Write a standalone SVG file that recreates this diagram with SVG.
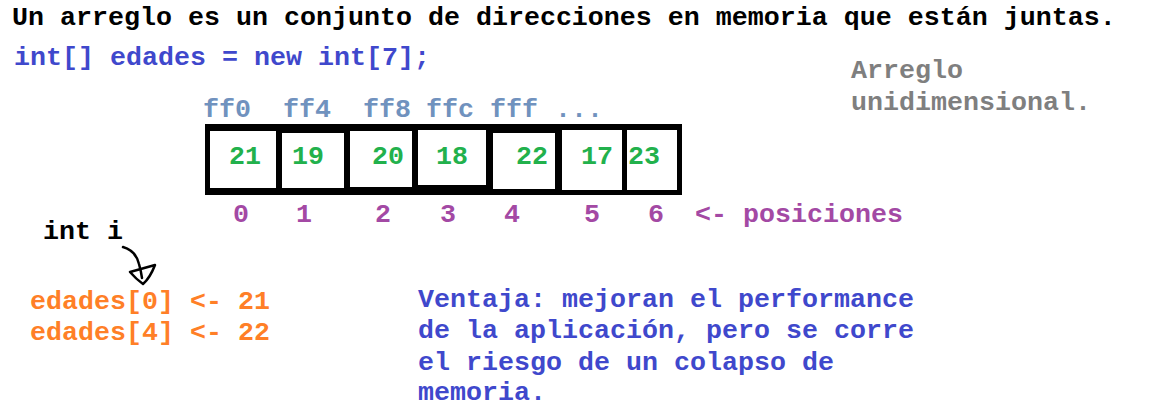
<svg xmlns="http://www.w3.org/2000/svg" width="1150" height="420" viewBox="0 0 1150 420">
<style>
text{font-family:"Liberation Mono","Courier New",monospace;font-weight:bold;font-size:26.67px}
.k{fill:#000}
.b{fill:#3f48cc}
.g{fill:#7f7f7f}
.a{fill:#7092be}
.v{fill:#22b14c}
.p{fill:#a349a4}
.o{fill:#ff7f27}
.cell{fill:#fff}
</style>
<rect width="1150" height="420" fill="#fff"/>
<g id="title"><text class="k" x="12" y="25">Un arreglo es un conjunto de direcciones en memoria que están juntas.</text></g>
<g id="code"><text class="b" x="14" y="65">int[] edades = new int[7];</text></g>
<g id="label-unidimensional">
<text class="g" x="851" y="78">Arreglo</text>
<text class="g" x="851" y="110">unidimensional.</text>
</g>
<g id="addresses">
<text class="a" x="203" y="117">ff0</text>
<text class="a" x="283" y="117">ff4</text>
<text class="a" x="363" y="117">ff8</text>
<text class="a" x="426" y="117">ffc</text>
<text class="a" x="490" y="117">fff</text>
<text class="a" x="555" y="117">...</text>
</g>
<g id="array">
<rect x="205" y="124" width="477" height="71" fill="#000"/>
<rect class="cell" x="210" y="131" width="66" height="57"/>
<rect class="cell" x="282" y="133" width="62" height="55"/>
<rect class="cell" x="350" y="131" width="62" height="56"/>
<rect class="cell" x="418" y="130" width="68" height="55"/>
<rect class="cell" x="493" y="133" width="62" height="56"/>
<rect class="cell" x="562" y="130" width="60" height="60"/>
<rect class="cell" x="627" y="130" width="50" height="60"/>
<text class="v" x="229" y="164">21</text>
<text class="v" x="292" y="164">19</text>
<text class="v" x="372" y="164">20</text>
<text class="v" x="436" y="164">18</text>
<text class="v" x="516" y="164">22</text>
<text class="v" x="581" y="164">17</text>
<text class="v" x="628" y="164">23</text>
</g>
<g id="indices">
<text class="p" x="233" y="222">0</text>
<text class="p" x="296" y="222">1</text>
<text class="p" x="375" y="222">2</text>
<text class="p" x="440" y="222">3</text>
<text class="p" x="504" y="222">4</text>
<text class="p" x="584" y="222">5</text>
<text class="p" x="648" y="222">6</text>
<text class="p" x="695" y="222">&lt;- posiciones</text>
</g>
<g id="int-i"><text class="k" x="43" y="239">int i</text></g>
<g id="connectors" fill="none" stroke="#000" stroke-width="2.5" stroke-linecap="round" stroke-linejoin="round">
<path d="M123,247 Q136,251 139,264 Q141,271 142,278"/>
<path d="M130,272 L155,265 Q150,278 143,284 Q136,279 130,272"/>
</g>
<g id="assignments">
<text class="o" x="30" y="309">edades[0] &lt;- 21</text>
<text class="o" x="30" y="340">edades[4] &lt;- 22</text>
</g>
<g id="ventaja">
<text class="b" x="418" y="307">Ventaja: mejoran el performance</text>
<text class="b" x="418" y="338">de la aplicación, pero se corre</text>
<text class="b" x="418" y="370">el riesgo de un colapso de</text>
<text class="b" x="418" y="400">memoria.</text>
</g>
</svg>
